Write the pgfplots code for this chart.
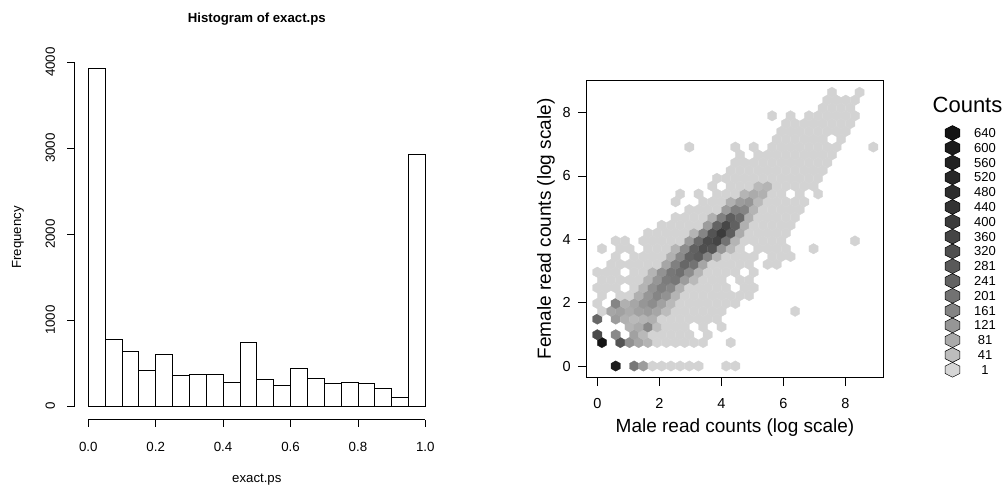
\documentclass[border=0pt]{standalone}
\usepackage{fontspec}
\setmainfont{Liberation Sans}
\usepackage{pgfplots}
\pgfplotsset{compat=1.18}
\pgfplotsset{/pgf/number format/assume math mode=true}

\pgfdeclareplotmark{hexa}{%
  \pgfpathmoveto{\pgfqpoint{0pt}{5.21pt}}%
  \pgfpathlineto{\pgfqpoint{4.6pt}{2.605pt}}%
  \pgfpathlineto{\pgfqpoint{4.6pt}{-2.605pt}}%
  \pgfpathlineto{\pgfqpoint{0pt}{-5.21pt}}%
  \pgfpathlineto{\pgfqpoint{-4.6pt}{-2.605pt}}%
  \pgfpathlineto{\pgfqpoint{-4.6pt}{2.605pt}}%
  \pgfpathclose
  \pgfusepathqfillstroke}
\pgfdeclareplotmark{hexleg}{%
  \pgfpathmoveto{\pgfqpoint{0pt}{7.4pt}}%
  \pgfpathlineto{\pgfqpoint{7.3pt}{3.7pt}}%
  \pgfpathlineto{\pgfqpoint{7.3pt}{-3.7pt}}%
  \pgfpathlineto{\pgfqpoint{0pt}{-7.4pt}}%
  \pgfpathlineto{\pgfqpoint{-7.3pt}{-3.7pt}}%
  \pgfpathlineto{\pgfqpoint{-7.3pt}{3.7pt}}%
  \pgfpathclose
  \pgfusepathqfill}
\pgfdeclareplotmark{hexlegline}{%
  \pgfpathmoveto{\pgfqpoint{0pt}{7.4pt}}%
  \pgfpathlineto{\pgfqpoint{7.3pt}{3.7pt}}%
  \pgfpathlineto{\pgfqpoint{7.3pt}{-3.7pt}}%
  \pgfpathlineto{\pgfqpoint{0pt}{-7.4pt}}%
  \pgfpathlineto{\pgfqpoint{-7.3pt}{-3.7pt}}%
  \pgfpathlineto{\pgfqpoint{-7.3pt}{3.7pt}}%
  \pgfpathclose
  \pgfusepathqstroke}

\pgfplotsset{colormap={hexgray}{gray(0cm)=(0.84); gray(1cm)=(0.745); gray(2cm)=(0.67); gray(3cm)=(0.59); gray(4cm)=(0.52); gray(5cm)=(0.45); gray(6cm)=(0.39); gray(7cm)=(0.35); gray(8cm)=(0.31); gray(9cm)=(0.27); gray(10cm)=(0.235); gray(11cm)=(0.20); gray(12cm)=(0.18); gray(13cm)=(0.155); gray(14cm)=(0.135); gray(15cm)=(0.11); gray(16cm)=(0.08)}}

\begin{document}
\begin{tikzpicture}
\path[use as bounding box] (0,0) rectangle (1007pt,485pt);

% ---------------- Histogram ----------------
\begin{axis}[
  at={(74.8pt,65.5pt)}, anchor=south west,
  scale only axis, width=364pt, height=364.1pt,
  xmin=-0.04, xmax=1.04, ymin=-156.8, ymax=4076.8,
  axis x line*=bottom, axis y line*=left,
  x axis line style={draw=none}, y axis line style={draw=none},
  tick align=outside, major tick length=7.3pt,
  tick style={black, line width=0.8pt},
  xtick={0,0.2,0.4,0.6,0.8,1}, xticklabels={0.0,0.2,0.4,0.6,0.8,1.0},
  ytick={0,1000,2000,3000,4000}, yticklabels={0,1000,2000,3000,4000},
  ticklabel style={font=\fontsize{13.3}{15}\selectfont, inner sep=0pt},
  xticklabel style={anchor=base, yshift=-24.2pt},
  yticklabel style={xshift=-12.5pt, rotate=90, anchor=base},
  title={Histogram of exact.ps},
  title style={at={(0.5,1.0725)}, anchor=base, font=\bfseries\fontsize{13.2}{15}\selectfont},
  xlabel={exact.ps},
  xlabel style={at={(0.5,-0.1717)}, anchor=base, font=\fontsize{13.2}{15}\selectfont},
  ylabel={Frequency},
  ylabel style={at={(-0.1478,0.5)}, anchor=base, rotate=0, font=\fontsize{13.2}{15}\selectfont},
  clip=false,
]
\addplot[ybar interval, fill=white, draw=black, line width=0.8pt] coordinates {
(0.00,3920) (0.05,775) (0.10,632) (0.15,415) (0.20,601) (0.25,360) (0.30,368)
(0.35,368) (0.40,271) (0.45,744) (0.50,310) (0.55,240) (0.60,442) (0.65,322)
(0.70,264) (0.75,279) (0.80,260) (0.85,202) (0.90,101) (0.95,2927) (1.00,2927)};
\draw[line width=0.8pt] (axis cs:0,-156.8) -- (axis cs:1,-156.8);
\draw[line width=0.8pt] (axis cs:-0.04,0) -- (axis cs:-0.04,4000);
\end{axis}

% ---------------- Hexbin ----------------
\begin{axis}[
  at={(586.7pt,107.3pt)}, anchor=south west,
  scale only axis, width=296.6pt, height=297.7pt,
  xmin=-0.342, xmax=9.226, ymin=-0.369, ymax=9.031,
  axis line style={line width=0.8pt},
  xtick={0,2,4,6,8}, ytick={0,2,4,6,8},
  xtick pos=left, ytick pos=left,
  tick align=outside, major tick length=8.3pt,
  tick style={black, line width=0.8pt},
  ticklabel style={font=\fontsize{14.5}{17}\selectfont, inner sep=0pt},
  xticklabel style={anchor=base, yshift=-22pt},
  yticklabel style={anchor=east, xshift=-7.4pt},
  xlabel={Male read counts (log scale)},
  xlabel style={at={(0.5,-0.1824)}, anchor=base, font=\fontsize{19}{22}\selectfont},
  ylabel={Female read counts (log scale)},
  ylabel style={at={(-0.1204,0.5)}, anchor=base, font=\fontsize{19}{22}\selectfont},
  colormap name=hexgray, point meta min=0, point meta max=640,
]
\addplot[scatter, only marks, mark=hexa, point meta=explicit,
  scatter/use mapped color={draw=mapped color, fill=mapped color},
  mark options={line width=0.3pt},
  x filter/.expression={x*0.1484}, y filter/.expression={y*0.2469}]
coordinates {
(4,0)[600] (8,0)[190] (10,0)[110] (12,0)[5] (14,0)[5] (16,0)[5] (18,0)[5] (20,0)[5] (22,0)[5] (28,0)[5] (30,0)[5]
(1,3)[640] (5,3)[300] (7,3)[130] (9,3)[90] (11,3)[60] (13,3)[5] (15,3)[5] (17,3)[5] (19,3)[5] (21,3)[5] (23,3)[5] (29,3)[5]
(0,4)[340] (4,4)[150] (8,4)[100] (10,4)[50] (12,4)[5] (14,4)[5] (16,4)[5] (18,4)[5] (20,4)[5] (24,4)[5]
(7,5)[60] (9,5)[80] (11,5)[150] (13,5)[40] (15,5)[5] (17,5)[5] (19,5)[5] (23,5)[5] (27,5)[5]
(0,6)[230] (4,6)[110] (6,6)[70] (8,6)[50] (10,6)[60] (12,6)[70] (14,6)[5] (16,6)[5] (18,6)[5] (20,6)[5] (22,6)[5] (24,6)[5] (26,6)[5]
(1,7)[5] (3,7)[90] (5,7)[100] (7,7)[80] (9,7)[100] (11,7)[110] (13,7)[90] (15,7)[45] (17,7)[5] (19,7)[5] (21,7)[5] (23,7)[5] (25,7)[5] (27,7)[5] (43,7)[5]
(0,8)[5] (4,8)[160] (6,8)[70] (8,8)[90] (10,8)[120] (12,8)[140] (14,8)[100] (16,8)[50] (18,8)[5] (20,8)[5] (22,8)[5] (24,8)[5] (26,8)[5] (28,8)[5] (30,8)[5]
(1,9)[5] (5,9)[5] (7,9)[5] (9,9)[70] (11,9)[120] (13,9)[160] (15,9)[130] (17,9)[60] (19,9)[5] (21,9)[5] (23,9)[5] (25,9)[5] (27,9)[5] (29,9)[5] (31,9)[5] (33,9)[5]
(0,10)[5] (2,10)[5] (4,10)[5] (8,10)[5] (10,10)[60] (12,10)[130] (14,10)[170] (16,10)[150] (18,10)[70] (20,10)[5] (22,10)[5] (24,10)[5] (26,10)[5] (28,10)[5] (32,10)[5] (34,10)[5]
(1,11)[5] (3,11)[5] (5,11)[5] (7,11)[5] (9,11)[5] (11,11)[60] (13,11)[120] (15,11)[180] (17,11)[190] (19,11)[110] (21,11)[50] (23,11)[5] (25,11)[5] (27,11)[5] (31,11)[5] (33,11)[5]
(0,12)[5] (2,12)[5] (4,12)[5] (8,12)[5] (10,12)[5] (12,12)[60] (14,12)[130] (16,12)[190] (18,12)[210] (20,12)[140] (22,12)[60] (24,12)[5] (26,12)[5] (28,12)[5] (30,12)[5] (34,12)[5]
(3,13)[5] (5,13)[5] (7,13)[5] (9,13)[5] (11,13)[5] (13,13)[5] (15,13)[90] (17,13)[170] (19,13)[230] (21,13)[200] (23,13)[90] (25,13)[5] (27,13)[5] (29,13)[5] (31,13)[5] (33,13)[5] (37,13)[5] (39,13)[5]
(4,14)[5] (8,14)[5] (10,14)[5] (12,14)[5] (14,14)[5] (16,14)[70] (18,14)[150] (20,14)[240] (22,14)[270] (24,14)[160] (26,14)[60] (28,14)[5] (30,14)[5] (32,14)[5] (34,14)[5] (38,14)[5] (40,14)[5] (42,14)[5]
(1,15)[5] (5,15)[5] (7,15)[5] (11,15)[5] (13,15)[5] (15,15)[5] (17,15)[60] (19,15)[140] (21,15)[250] (23,15)[320] (25,15)[300] (27,15)[120] (29,15)[50] (31,15)[5] (35,15)[5] (37,15)[5] (39,15)[5] (41,15)[5] (47,15)[5]
(4,16)[5] (6,16)[5] (10,16)[5] (12,16)[5] (14,16)[5] (16,16)[5] (18,16)[5] (20,16)[110] (22,16)[220] (24,16)[330] (26,16)[360] (28,16)[200] (30,16)[60] (32,16)[5] (34,16)[5] (36,16)[5] (38,16)[5] (40,16)[5] (56,16)[5]
(11,17)[5] (13,17)[5] (15,17)[5] (17,17)[5] (19,17)[5] (21,17)[60] (23,17)[160] (25,17)[300] (27,17)[400] (29,17)[260] (31,17)[80] (33,17)[5] (35,17)[5] (37,17)[5] (39,17)[5] (41,17)[5]
(14,18)[5] (16,18)[5] (18,18)[5] (20,18)[5] (22,18)[5] (24,18)[110] (26,18)[240] (28,18)[350] (30,18)[250] (32,18)[70] (34,18)[5] (36,18)[5] (38,18)[5] (40,18)[5] (42,18)[5]
(17,19)[5] (19,19)[5] (21,19)[5] (23,19)[5] (25,19)[70] (27,19)[170] (29,19)[260] (31,19)[220] (33,19)[70] (35,19)[5] (37,19)[5] (39,19)[5] (41,19)[5] (43,19)[5]
(20,20)[5] (22,20)[5] (24,20)[5] (26,20)[5] (28,20)[110] (30,20)[170] (32,20)[160] (34,20)[60] (36,20)[5] (38,20)[5] (40,20)[5] (42,20)[5] (44,20)[5]
(17,21)[5] (23,21)[5] (25,21)[5] (27,21)[5] (29,21)[70] (31,21)[110] (33,21)[120] (35,21)[50] (37,21)[5] (39,21)[5] (41,21)[5] (43,21)[5] (45,21)[5]
(18,22)[5] (22,22)[5] (26,22)[5] (28,22)[5] (30,22)[5] (32,22)[60] (34,22)[80] (36,22)[70] (38,22)[5] (40,22)[5] (44,22)[5] (48,22)[5]
(25,23)[5] (29,23)[5] (31,23)[5] (33,23)[5] (35,23)[50] (37,23)[60] (39,23)[5] (41,23)[5] (43,23)[5] (45,23)[5] (47,23)[5]
(26,24)[5] (28,24)[5] (30,24)[5] (32,24)[5] (34,24)[5] (36,24)[5] (38,24)[5] (40,24)[5] (42,24)[5] (44,24)[5] (46,24)[5] (48,24)[5]
(29,25)[5] (31,25)[5] (33,25)[5] (35,25)[5] (37,25)[5] (39,25)[5] (41,25)[5] (43,25)[5] (45,25)[5] (47,25)[5] (49,25)[5]
(30,26)[5] (32,26)[5] (34,26)[5] (36,26)[5] (38,26)[5] (40,26)[5] (42,26)[5] (44,26)[5] (46,26)[5] (48,26)[5] (50,26)[5]
(31,27)[5] (35,27)[5] (37,27)[5] (39,27)[5] (41,27)[5] (43,27)[5] (45,27)[5] (47,27)[5] (49,27)[5] (51,27)[5]
(20,28)[5] (30,28)[5] (34,28)[5] (38,28)[5] (40,28)[5] (42,28)[5] (44,28)[5] (46,28)[5] (48,28)[5] (50,28)[5] (52,28)[5] (60,28)[5]
(39,29)[5] (41,29)[5] (43,29)[5] (45,29)[5] (47,29)[5] (49,29)[5] (53,29)[5]
(40,30)[5] (42,30)[5] (44,30)[5] (46,30)[5] (48,30)[5] (50,30)[5] (52,30)[5] (54,30)[5]
(41,31)[5] (43,31)[5] (45,31)[5] (47,31)[5] (49,31)[5] (51,31)[5] (53,31)[5] (55,31)[5]
(38,32)[5] (42,32)[5] (46,32)[5] (48,32)[5] (50,32)[5] (52,32)[5] (54,32)[5] (56,32)[5]
(49,33)[5] (51,33)[5] (53,33)[5] (55,33)[5]
(50,34)[5] (52,34)[5] (54,34)[5] (56,34)[5]
(51,35)[5] (57,35)[5]
};
\end{axis}

% ---------------- Legend ----------------
\begin{axis}[
  at={(952.5pt,115.2pt)}, anchor=south west,
  scale only axis, width=40pt, height=236.8pt,
  xmin=0, xmax=1, ymin=0, ymax=16,
  hide axis, clip=false,
  colormap name=hexgray, point meta min=0, point meta max=640,
]
% fills, coloured by count
\addplot[scatter, only marks, mark=hexleg, point meta=explicit,
  scatter/use mapped color={draw=mapped color, fill=mapped color}]
coordinates {
(0,16)[640] (0,15)[600] (0,14)[560] (0,13)[520] (0,12)[480] (0,11)[440] (0,10)[400]
(0,9)[360] (0,8)[320] (0,7)[281] (0,6)[241] (0,5)[201] (0,4)[161] (0,3)[121]
(0,2)[81] (0,1)[41] (0,0)[1]};
% outlines and count labels
\addplot[only marks, mark=hexlegline, mark options={black, line width=0.5pt},
  point meta=explicit,
  nodes near coords={\pgfmathprintnumber{\pgfplotspointmeta}},
  nodes near coords style={anchor=center, xshift=32.5pt, text=black, font=\fontsize{13}{15}\selectfont}]
coordinates {
(0,16)[640] (0,15)[600] (0,14)[560] (0,13)[520] (0,12)[480] (0,11)[440] (0,10)[400]
(0,9)[360] (0,8)[320] (0,7)[281] (0,6)[241] (0,5)[201] (0,4)[161] (0,3)[121]
(0,2)[81] (0,1)[41] (0,0)[1]};
\node[anchor=base, xshift=15pt, yshift=20pt, font=\fontsize{22}{26}\selectfont] at (rel axis cs:0,1) {Counts};
\end{axis}
\end{tikzpicture}
\end{document}
